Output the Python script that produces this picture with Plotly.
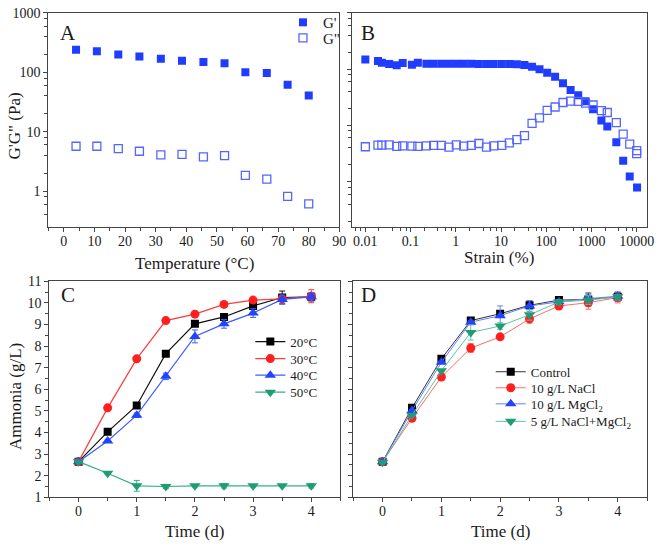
import plotly.graph_objects as go

W, H = 661, 551

# ---------------- Data ----------------
# Panel A: temperature sweep
temp_A = [4, 10.8, 17.8, 24.7, 31.7, 38.6, 45.6, 52.5, 59.3, 66.3, 73.1, 80]
Gp_A = [240, 226, 199, 185, 169, 157, 149, 142, 100, 97.5, 62, 40.6]
Gpp_A = [5.7, 5.7, 5.2, 4.7, 4.07, 4.17, 3.77, 3.96, 1.85, 1.59, 0.82, 0.61]

# Panel B: strain sweep
strain_Gp = [0.01, 0.019, 0.0232, 0.0336, 0.0494, 0.067, 0.107, 0.145, 0.224, 0.324,
             0.478, 0.705, 1.03, 1.5, 2.2, 3.24, 4.78, 6.92, 10.4, 15.3, 22.4, 33,
             48.6, 71, 105, 157, 235, 346, 509, 741, 1087, 1660, 2240, 3545, 5030,
             7020, 10200]
Gp_B = [149, 139, 130, 124, 117, 129, 120, 130, 125, 125, 125, 125, 125, 125, 125,
        124, 124, 124, 124, 124, 122, 119, 110, 100, 86, 73.5, 56.3, 42.5, 34.4, 27,
        19.4, 12.3, 9.56, 5.05, 2.36, 1.24, 0.79]
strain_Gpp = [0.01, 0.019, 0.0232, 0.0336, 0.0494, 0.067, 0.107, 0.145, 0.224, 0.324,
              0.478, 0.705, 1.03, 1.5, 2.2, 3.24, 4.78, 6.92, 10.4, 15.3, 22.4, 33,
              48.6, 71, 105, 157, 235, 346, 509, 741, 1087, 1660, 2240, 3545, 5030,
              7020, 10000, 10000]
Gpp_B = [4.19, 4.48, 4.48, 4.54, 4.25, 4.36, 4.30, 4.25, 4.36, 4.42, 4.42, 4.13, 4.54,
         4.30, 4.42, 4.79, 4.13, 4.36, 4.42, 4.92, 5.61, 6.59, 10.9, 13.7, 18.6, 21.3,
         25.6, 27, 26.7, 25, 23.1, 18.4, 17, 11.2, 7.05, 4.67, 3.57, 3.16]

# Panels C and D: ammonia over time
time_d = [0, 0.5, 1, 1.5, 2, 2.5, 3, 3.5, 4]

C_names = ["20°C", "30°C", "40°C", "50°C"]
C_20 = [2.65, 4.03, 5.25, 7.65, 9.03, 9.35, 9.86, 10.25, 10.28]
C_30 = [2.65, 5.14, 7.41, 9.18, 9.48, 9.93, 10.13, 10.19, 10.31]
C_40 = [2.65, 3.61, 4.80, 6.60, 8.45, 9.03, 9.53, 10.16, 10.28]
C_50 = [2.65, 2.11, 1.53, 1.50, 1.53, 1.53, 1.53, 1.53, 1.53]
C_20_err = [0.05, 0.05, 0.1, 0.1, 0.1, 0.1, 0.1, 0.3, 0.15]
C_30_err = [0.05, 0.05, 0.05, 0.05, 0.05, 0.05, 0.05, 0.1, 0.3]
C_40_err = [0.05, 0.05, 0.1, 0.15, 0.3, 0.2, 0.2, 0.2, 0.2]
C_50_err = [0.05, 0.05, 0.25, 0.1, 0.05, 0.1, 0.05, 0.05, 0.1]

D_names = ["Control", "10 g/L NaCl", "10 g/L MgCl<sub>2</sub>", "5 g/L NaCl+MgCl<sub>2</sub>"]
D_ctrl = [2.65, 5.14, 7.41, 9.18, 9.50, 9.89, 10.13, 10.16, 10.28]
D_nacl = [2.65, 4.66, 6.57, 7.91, 8.43, 9.26, 9.86, 10.01, 10.25]
D_mgcl = [2.65, 5.01, 7.25, 9.11, 9.41, 9.86, 10.05, 10.20, 10.31]
D_mix = [2.62, 4.80, 6.86, 8.63, 8.93, 9.45, 10.04, 10.13, 10.28]
D_ctrl_err = [0.05, 0.05, 0.1, 0.05, 0.1, 0.2, 0.1, 0.3, 0.2]
D_nacl_err = [0.05, 0.05, 0.05, 0.2, 0.05, 0.2, 0.1, 0.3, 0.25]
D_mgcl_err = [0.05, 0.05, 0.05, 0.05, 0.45, 0.25, 0.1, 0.2, 0.2]
D_mix_err = [0.05, 0.05, 0.05, 0.35, 0.15, 0.25, 0.1, 0.2, 0.1]

# ---------------- Styling helpers ----------------
FONT = "Liberation Serif"
AX = "#444444"
TXT = "#1a1a1a"


def px(x):
    return x / W


def py(y):
    return 1 - y / H


fig = go.Figure()

BLUE_F = "#1f3cff"
BLUE_O = "#5566ff"

# Panel A
fig.add_trace(go.Scatter(x=temp_A, y=Gp_A, mode="markers", name="G'",
                         marker=dict(symbol="square", size=8, color=BLUE_F),
                         xaxis="x", yaxis="y", legend="legend"))
fig.add_trace(go.Scatter(x=temp_A, y=Gpp_A, mode="markers", name='G"',
                         marker=dict(symbol="square-open", size=8, color=BLUE_O,
                                     line=dict(width=1.3)),
                         xaxis="x", yaxis="y", legend="legend2"))
# Panel B
fig.add_trace(go.Scatter(x=strain_Gp, y=Gp_B, mode="markers", showlegend=False,
                         marker=dict(symbol="square", size=8, color=BLUE_F),
                         xaxis="x2", yaxis="y2"))
fig.add_trace(go.Scatter(x=strain_Gpp, y=Gpp_B, mode="markers", showlegend=False,
                         marker=dict(symbol="square-open", size=8, color=BLUE_O,
                                     line=dict(width=1.3)),
                         xaxis="x2", yaxis="y2"))

# Panel C
C_series = [C_20, C_30, C_40, C_50]
C_errs = [C_20_err, C_30_err, C_40_err, C_50_err]
C_mcol = ["#000000", "#ff1f1f", "#2244ff", "#1e9c74"]
C_lcol = ["#111111", "#ff3b3b", "#3d5cff", "#35b088"]
C_sym = ["square", "circle", "triangle-up", "triangle-down"]
C_size = [8, 9, 10, 10]
C_leg = ["legend3", "legend4", "legend5", "legend6"]
for nm, ys, er, mc, lc, sy, sz, lg in zip(C_names, C_series, C_errs, C_mcol, C_lcol,
                                          C_sym, C_size, C_leg):
    fig.add_trace(go.Scatter(x=time_d, y=ys, mode="lines+markers", name=nm,
                             line=dict(color=lc, width=1.2),
                             marker=dict(symbol=sy, size=sz, color=mc),
                             error_y=dict(type="data", array=er, color=lc, thickness=1, width=3),
                             xaxis="x3", yaxis="y3", legend=lg))

# Panel D
D_series = [D_ctrl, D_nacl, D_mgcl, D_mix]
D_errs = [D_ctrl_err, D_nacl_err, D_mgcl_err, D_mix_err]
D_mcol = ["#000000", "#ff1f1f", "#2244ff", "#1e9c74"]
D_lcol = ["#333333", "#ff6b6b", "#6680ff", "#5cc49f"]
D_sym = ["square", "circle", "triangle-up", "triangle-down"]
D_size = [8, 9, 10, 10]
D_leg = ["legend7", "legend8", "legend9", "legend10"]
for nm, ys, er, mc, lc, sy, sz, lg in zip(D_names, D_series, D_errs, D_mcol, D_lcol,
                                          D_sym, D_size, D_leg):
    fig.add_trace(go.Scatter(x=time_d, y=ys, mode="lines+markers", name=nm,
                             line=dict(color=lc, width=1),
                             marker=dict(symbol=sy, size=sz, color=mc),
                             error_y=dict(type="data", array=er, color=lc, thickness=1, width=3),
                             xaxis="x4", yaxis="y4", legend=lg))

tickfont = dict(family=FONT, size=14, color=TXT)


def base_axis(**kw):
    d = dict(showline=True, linecolor=AX, linewidth=1.3, mirror=True,
             ticks="outside", ticklen=4, tickwidth=1, tickcolor=AX,
             showgrid=False, zeroline=False, tickfont=tickfont)
    d.update(kw)
    return d


log_minor = [m * 10 ** e for e in range(-3, 5) for m in (2, 4, 6, 8)]

# domains (pixel based)
A_x = [px(49), px(343)]
B_x = [px(356), px(654)]
top_y = [py(226), py(6)]
C_x = [px(50), px(344)]
D_x = [px(357), px(654)]
bot_y = [py(504), py(282)]


def leg(left, yc, size=13):
    return dict(x=px(left), y=py(yc), xanchor="left", yanchor="middle",
                bgcolor="rgba(0,0,0,0)", borderwidth=0,
                font=dict(family=FONT, size=size, color=TXT),
                tracegroupgap=0, itemwidth=30)


XSO = -3  # pull x tick labels slightly closer to the axis

fig.update_layout(
    width=W, height=H, margin=dict(l=0, r=0, t=0, b=0),
    paper_bgcolor="white", plot_bgcolor="white",
    font=dict(family=FONT, color=TXT),
    xaxis=base_axis(domain=A_x, anchor="y", range=[-5, 90], dtick=10, tick0=0,
                    ticklabelstandoff=XSO,
                    minor=dict(ticks="outside", dtick=5, ticklen=3, tickcolor=AX)),
    yaxis=base_axis(domain=top_y, anchor="x", type="log", range=[-0.6, 3],
                    tickvals=[1, 10, 100, 1000], ticktext=["1", "10", "100", "1000"],
                    minor=dict(ticks="outside", tickvals=log_minor, ticklen=3, tickcolor=AX)),
    xaxis2=base_axis(domain=B_x, anchor="y2", type="log", range=[-2.29, 4.23],
                     tickvals=[0.01, 0.1, 1, 10, 100, 1000, 10000],
                     ticktext=["0.01", "0.1", "1", "10", "100", "1000", "10000"],
                     ticklabelstandoff=XSO,
                     minor=dict(ticks="outside", tickvals=log_minor, ticklen=3, tickcolor=AX)),
    yaxis2=base_axis(domain=top_y, anchor="x2", type="log", range=[-0.8, 3],
                     tickvals=[1, 10, 100, 1000], showticklabels=False,
                     minor=dict(ticks="outside", tickvals=log_minor, ticklen=3, tickcolor=AX)),
    xaxis3=base_axis(domain=C_x, anchor="y3", range=[-0.5, 4.5], dtick=1, tick0=0,
                     ticklabelstandoff=XSO,
                     minor=dict(ticks="outside", dtick=0.5, ticklen=3, tickcolor=AX)),
    yaxis3=base_axis(domain=bot_y, anchor="x3", range=[1, 11], dtick=1, tick0=1,
                     minor=dict(ticks="outside", dtick=0.5, ticklen=3, tickcolor=AX)),
    xaxis4=base_axis(domain=D_x, anchor="y4", range=[-0.5, 4.5], dtick=1, tick0=0,
                     ticklabelstandoff=XSO,
                     minor=dict(ticks="outside", dtick=0.5, ticklen=3, tickcolor=AX)),
    yaxis4=base_axis(domain=bot_y, anchor="x4", range=[1, 11], dtick=1, tick0=1,
                     showticklabels=False,
                     minor=dict(ticks="outside", dtick=0.5, ticklen=3, tickcolor=AX)),
    legend=leg(286, 16, 15),
    legend2=leg(286, 32, 15),
    legend3=leg(253, 344),
    legend4=leg(253, 361.5),
    legend5=leg(253, 378.5),
    legend6=leg(253, 396),
    legend7=leg(496, 375),
    legend8=leg(496, 391.5),
    legend9=leg(496, 408),
    legend10=leg(496, 426),
)

ann = [
    ("Temperature (°C)", 197, 264, 0, 17),
    ("Strain (%)", 504, 258, 0, 17),
    ("Time (d)", 197, 539, 0, 17),
    ("Time (d)", 506, 539, 0, 17),
    ('G\'G" (Pa)', 15, 122, -90, 17),
    ("Ammonia (g/L)", 15, 400, -90, 17),
    ("A", 69, 27, 0, 21),
    ("B", 372, 27, 0, 21),
    ("C", 69, 296, 0, 21),
    ("D", 372, 296, 0, 21),
]
for t, x, y, rot, sz in ann:
    fig.add_annotation(text=t, x=px(x), y=py(y), xref="paper", yref="paper",
                       showarrow=False, textangle=rot, xanchor="center", yanchor="middle",
                       font=dict(family=FONT, size=sz, color=TXT))

fig.write_html("out.html", config={"displayModeBar": False},
               post_script="document.body.style.margin='0px';document.body.style.overflow='hidden';")
